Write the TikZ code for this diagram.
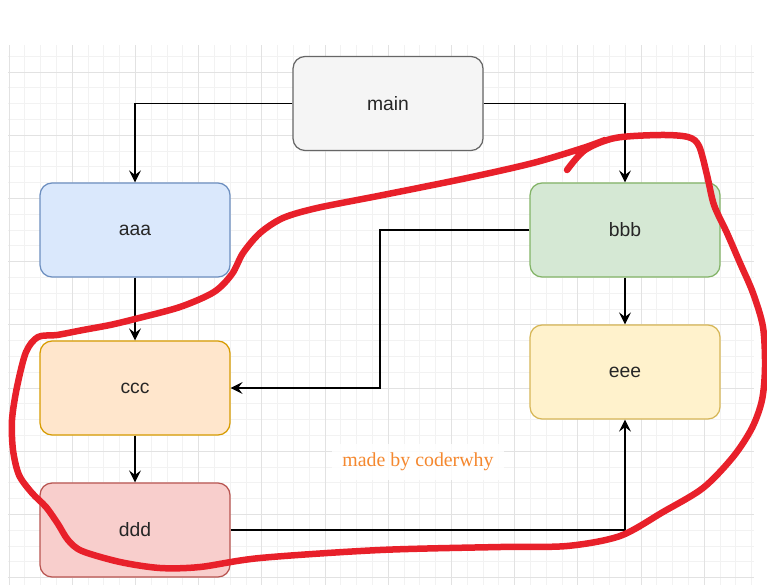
\documentclass[tikz,border=0pt]{standalone}
\usepackage{fontspec}
\setmainfont{Liberation Sans}
\newfontfamily\serifmark{Liberation Serif}
\usetikzlibrary{arrows.meta}

\definecolor{gridminor}{HTML}{F2F2F2}
\definecolor{gridmajor}{HTML}{E2E2E2}
\definecolor{mainfill}{HTML}{F5F5F5}
\definecolor{mainline}{HTML}{666666}
\definecolor{bluefill}{HTML}{DAE8FC}
\definecolor{blueline}{HTML}{6C8EBF}
\definecolor{greenfill}{HTML}{D5E8D4}
\definecolor{greenline}{HTML}{82B366}
\definecolor{orangefill}{HTML}{FFE6CC}
\definecolor{orangeline}{HTML}{D79B00}
\definecolor{yellowfill}{HTML}{FFF2CC}
\definecolor{yellowline}{HTML}{D6B656}
\definecolor{redfill}{HTML}{F8CECC}
\definecolor{redline}{HTML}{B85450}
\definecolor{penred}{HTML}{E8202A}
\definecolor{markorange}{HTML}{F5882F}

\begin{document}
\begin{tikzpicture}[x=0.02cm, y=-0.02cm,
    box/.style={draw, rounded corners=0.24cm, line width=0.7pt,
      minimum width=3.8cm, minimum height=1.88cm, text=black!85,
      font=\fontsize{11}{13}\selectfont},
    link/.style={line width=0.75pt, -{Stealth[length=2.4mm, width=2.4mm, inset=0.9mm]}}]
  \useasboundingbox (0,0) rectangle (767,585);
  % background grid
  \begin{scope}
    \clip (8,45) rectangle (754,585);
    \foreach \k in {-1,...,48}
      \draw[gridminor, line width=0.4pt] ({9+15.8*\k},45) -- ({9+15.8*\k},585);
    \foreach \k in {-2,...,34}
      \draw[gridminor, line width=0.4pt] (8,{72+15.8*\k}) -- (754,{72+15.8*\k});
    \foreach \k in {0,...,12}
      \draw[gridmajor, line width=0.5pt] ({9+63.2*\k},45) -- ({9+63.2*\k},585);
    \foreach \k in {0,...,8}
      \draw[gridmajor, line width=0.5pt] (8,{72+63.2*\k}) -- (754,{72+63.2*\k});
  \end{scope}

  \node[box, fill=mainfill, draw=mainline] (main) at (388,103.5) {main};
  \node[box, fill=bluefill, draw=blueline] (aaa) at (135,230) {aaa};
  \node[box, fill=greenfill, draw=greenline] (bbb) at (625,230) {bbb};
  \node[box, fill=orangefill, draw=orangeline] (ccc) at (135,388) {ccc};
  \node[box, fill=yellowfill, draw=yellowline] (eee) at (625,372) {eee};
  \node[box, fill=redfill, draw=redline] (ddd) at (135,530) {ddd};

  \node[fill=white, fill opacity=0.85, text opacity=1, text=markorange,
    inner xsep=6pt, inner ysep=5pt, font=\serifmark\fontsize{11.3}{13}\selectfont]
    (mark) at (418,462) {made by coderwhy};

  \coordinate (turn) at (380,388);
  \draw[link] (main.west) -| (aaa.north);
  \draw[link] (main.east) -| (bbb.north);
  \draw[link] (aaa.south) -- (ccc.north);
  \draw[link] (bbb.south) -- (eee.north);
  \draw[link] (ccc.south) -- (ddd.north);
  \draw[link] (bbb.west) -| (turn) -- (ccc.east);
  \draw[link] (ddd.east) -| (eee.south);

  % red pen loop
  \draw[penred, line width=0.13cm, line cap=round, line join=round]
    plot[smooth, tension=0.5] coordinates {
      (567,170) (585,150) (615,138) (660,135) (688,137) (699,146)
      (707,175) (714,205) (727,233) (740,263) (753,293) (763,327)
      (765,367) (762,400) (752,428) (733,457) (703,488) (663,512)
      (620,536) (567,546) (500,547) (380,550) (260,558) (200,567)
      (160,568) (120,562) (82,551) (68,540) (58,524) (46,507)
      (32,493) (19,475) (13,450) (12,420) (17,387) (26,352)
      (38,337) (57,335) (83,330) (110,325) (135,319) (180,307)
      (214,292) (232,274) (243,253) (260,233) (283,218) (317,208)
      (383,195) (467,178) (533,163) (583,148) (605,140)};
\end{tikzpicture}
\end{document}
